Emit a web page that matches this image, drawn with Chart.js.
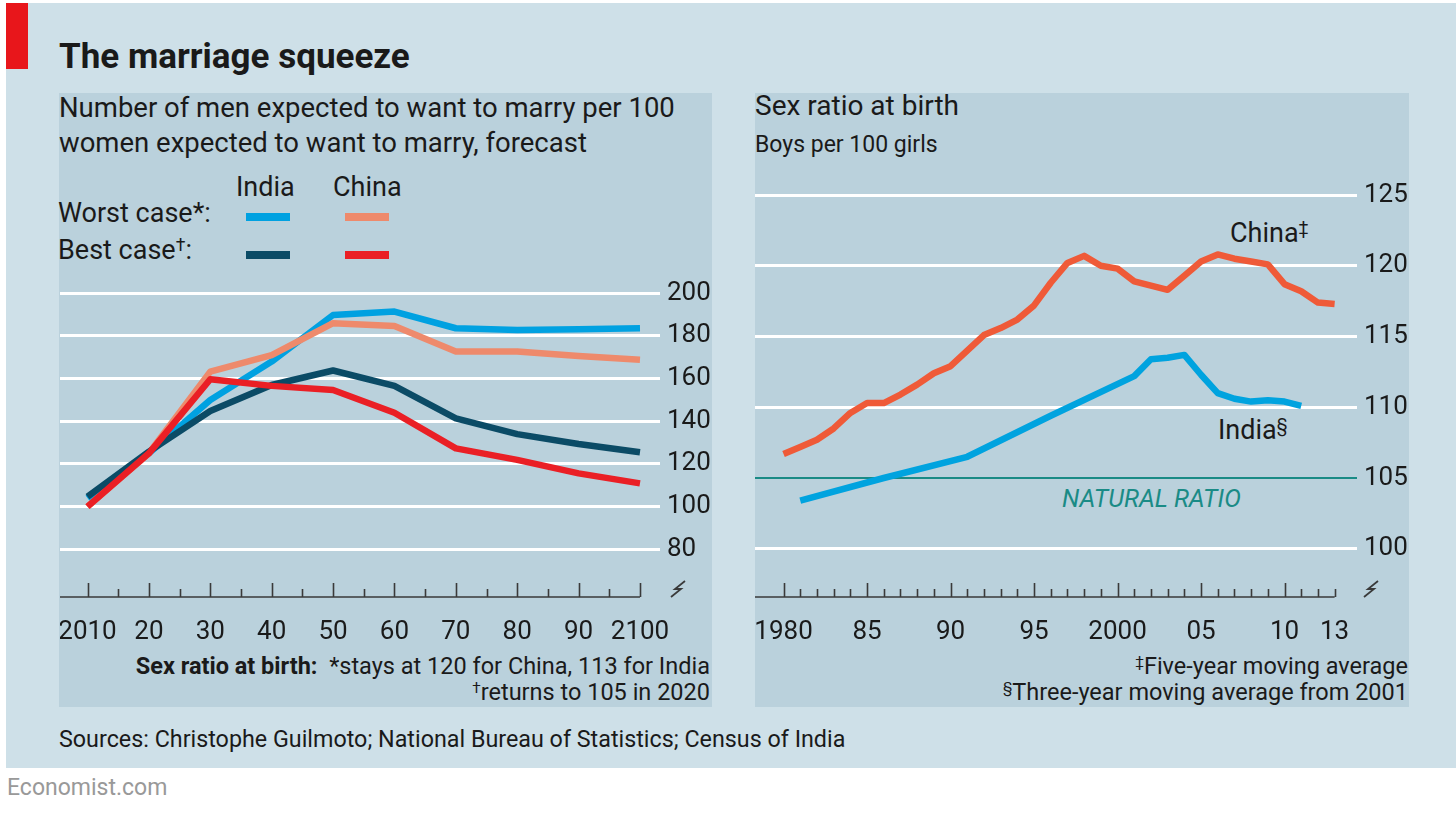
<!DOCTYPE html>
<html>
<head>
<meta charset="utf-8">
<title>The marriage squeeze</title>
<script src="https://cdn.jsdelivr.net/npm/chart.js@4.4.1/dist/chart.umd.min.js"></script>
<style>
  body { margin: 0; background: #fff; width: 1456px; height: 814px; position: relative; overflow: hidden; font-family: Roboto, "Open Sans", sans-serif; color: #1a1a1a; }
  .bg { position: absolute; left: 6px; top: 3px; width: 1450px; height: 765px; background: #cee0e8; }
  .red { position: absolute; left: 6px; top: 3px; width: 22px; height: 66px; background: #e8161b; }
  .panel { position: absolute; background: #bad1dc; }
  .t { position: absolute; white-space: nowrap; line-height: 1; }
  .r { text-align: right; }
  .sup { font-size: 0.65em; vertical-align: 0.45em; }
  .sw { position: absolute; width: 44px; height: 8px; }
  canvas { position: absolute; }
</style>
</head>
<body>
<div class="bg"></div>
<div class="red"></div>
<div class="panel" style="left:59px;top:93px;width:653px;height:614px"></div>
<div class="panel" style="left:755px;top:93px;width:654px;height:614px"></div>

<div class="t" style="left:59px;top:38.5px;font-size:35px;font-weight:bold">The marriage squeeze</div>

<div class="t" style="left:59px;top:93.8px;font-size:27.5px">Number of men expected to want to marry per 100</div>
<div class="t" style="left:59px;top:128.8px;font-size:27.5px">women expected to want to marry, forecast</div>

<div class="t" style="left:236px;top:174.3px;font-size:27px">India</div>
<div class="t" style="left:333px;top:174.3px;font-size:27px">China</div>
<div class="t" style="left:58px;top:200.3px;font-size:27px">Worst case*:</div>
<div class="t" style="left:58px;top:237.3px;font-size:27px">Best case<span class="sup">†</span>:</div>
<div class="sw" id="swIW" style="left:246px;top:213px"></div>
<div class="sw" id="swCW" style="left:345px;top:213px"></div>
<div class="sw" id="swIB" style="left:246px;top:251px"></div>
<div class="sw" id="swCB" style="left:345px;top:251px"></div>

<div class="t" style="left:755px;top:92.4px;font-size:28px">Sex ratio at birth</div>
<div class="t" style="left:755px;top:132.6px;font-size:23px">Boys per 100 girls</div>

<div class="t" style="left:1230px;top:220.3px;font-size:27px">China<span class="sup">‡</span></div>
<div class="t" style="left:1218px;top:417.3px;font-size:27px">India<span class="sup">§</span></div>
<div class="t" id="natural" style="left:1062px;top:486px;font-size:25px;font-style:italic">NATURAL RATIO</div>

<div class="t r" style="right:746px;top:655.2px;font-size:23.5px"><b>Sex ratio at birth:</b>&nbsp; *stays at 120 for China, 113 for India</div>
<div class="t r" style="right:746px;top:681.2px;font-size:23.5px"><span class="sup">†</span>returns to 105 in 2020</div>
<div class="t r" style="right:48px;top:655.2px;font-size:23.5px"><span class="sup">‡</span>Five-year moving average</div>
<div class="t r" style="right:48px;top:681.2px;font-size:23.5px"><span class="sup">§</span>Three-year moving average from 2001</div>

<div class="t" style="left:59px;top:728.4px;font-size:23.3px">Sources: Christophe Guilmoto; National Bureau of Statistics; Census of India</div>
<div class="t" style="left:7px;top:775.6px;font-size:23px;color:#999">Economist.com</div>

<canvas id="left" width="652" height="437" style="left:60px;top:270px;width:652px;height:437px"></canvas>
<canvas id="right" width="654" height="537" style="left:755px;top:170px;width:654px;height:537px"></canvas>

<script>
// forecast chart (left)
const forecastYears = [2010, 2020, 2030, 2040, 2050, 2060, 2070, 2080, 2090, 2100];
const indiaWorst = [104, 125, 150, 168, 189.8, 191.4, 183.6, 182.8, 183.1, 183.6];
const chinaWorst = [100, 125, 163.3, 171, 186, 184.7, 172.7, 172.7, 170.6, 168.8];
const indiaBest = [104.7, 125.8, 144.8, 157, 163.8, 156.6, 141.4, 134, 129.4, 125.5];
const chinaBest = [100, 125, 159.7, 156.6, 154.7, 144, 127.3, 121.9, 115.6, 110.9];
const forecastTickYears = [2010, 2020, 2030, 2040, 2050, 2060, 2070, 2080, 2090, 2100];
const forecastTickLabels = ["2010", "20", "30", "40", "50", "60", "70", "80", "90", "2100"];
const forecastAxisMarks = [2010, 2015, 2020, 2025, 2030, 2035, 2040, 2045, 2050, 2055, 2060, 2065, 2070, 2075, 2080, 2085, 2090, 2095, 2100];
const forecastYTicks = [80, 100, 120, 140, 160, 180, 200];

// sex ratio chart (right)
const chinaYears = [1980, 1981, 1982, 1983, 1984, 1985, 1986, 1987, 1988, 1989,
  1990, 1991, 1992, 1993, 1994, 1995, 1996, 1997, 1998, 1999,
  2000, 2001, 2002, 2003, 2004, 2005, 2006, 2007, 2008, 2009,
  2010, 2011, 2012, 2013];
const chinaRatio = [106.7, 107.2, 107.7, 108.5, 109.6, 110.3, 110.3, 110.9, 111.6, 112.4,
  112.9, 114.0, 115.1, 115.6, 116.2, 117.2, 118.8, 120.2, 120.7, 120.0,
  119.8, 118.9, 118.6, 118.3, 119.3, 120.3, 120.8, 120.5, 120.3, 120.1,
  118.7, 118.2, 117.4, 117.3];
const indiaYears = [1981, 1986, 1991, 1996, 2001, 2002, 2003, 2004, 2005, 2006, 2007, 2008, 2009, 2010, 2011];
const indiaRatio = [103.4, 105.0, 106.5, 109.4, 112.2, 113.4, 113.5, 113.7, 112.3, 111.0, 110.6, 110.4, 110.5, 110.4, 110.1];
const ratioTickYears = [1980, 1985, 1990, 1995, 2000, 2005, 2010, 2013];
const ratioTickLabels = ["1980", "85", "90", "95", "2000", "05", "10", "13"];
const ratioMajorMarks = [1980, 1985, 1990, 1995, 2000, 2005, 2010];
const ratioYTicks = [100, 105, 110, 115, 120, 125];
const naturalRatio = 105;

const colIndiaWorst = "#00a1e1";
const colChinaWorst = "#ee8a6c";
const colIndiaBest = "#0b4b66";
const colChinaBest = "#ea1f25";
const colChina = "#ef5a38";
const colIndia = "#00a3df";
const colTeal = "#1a8b86";
const colAxis = "#3a3a3a";

document.getElementById("swIW").style.background = colIndiaWorst;
document.getElementById("swCW").style.background = colChinaWorst;
document.getElementById("swIB").style.background = colIndiaBest;
document.getElementById("swCB").style.background = colChinaBest;
document.getElementById("natural").style.color = colTeal;

Chart.defaults.font.family = "Roboto, 'Open Sans', sans-serif";
Chart.defaults.color = "#1a1a1a";

function pairs(xs, ys) {
  return xs.map((x, i) => ({ x: x, y: ys[i] }));
}

function line(data, color) {
  return {
    data: data,
    borderColor: color,
    borderWidth: 6.5,
    pointRadius: 0,
    tension: 0,
    borderJoinStyle: "round",
    fill: false
  };
}

// baseline with upward ticks and the axis break mark
const axisPlugin = {
  id: "axisMarks",
  afterDraw(chart, args, opts) {
    const ctx = chart.ctx;
    const x = chart.scales.x;
    const area = chart.chartArea;
    const yb = area.bottom;
    ctx.save();
    ctx.strokeStyle = colAxis;
    ctx.lineWidth = 1.6;
    ctx.beginPath();
    ctx.moveTo(area.left, yb);
    ctx.lineTo(x.getPixelForValue(opts.marks[opts.marks.length - 1]), yb);
    opts.marks.forEach(v => {
      const px = Math.round(x.getPixelForValue(v)) + 0.5;
      const len = opts.major.includes(v) ? 14 : 8;
      ctx.moveTo(px, yb);
      ctx.lineTo(px, yb - len);
    });
    ctx.stroke();

    // break sign
    const bx = area.right + opts.breakOffset;
    const by = yb - 8;
    ctx.lineWidth = 1.8;
    ctx.beginPath();
    ctx.moveTo(bx + 7, by - 8);
    ctx.lineTo(bx - 3, by);
    ctx.lineTo(bx + 3, by);
    ctx.lineTo(bx - 7, by + 8);
    ctx.stroke();
    ctx.restore();
  }
};

function baseOptions(cfg) {
  return {
    responsive: false,
    animation: false,
    layout: { padding: 0, autoPadding: false },
    plugins: {
      legend: { display: false },
      tooltip: { enabled: false },
      axisMarks: cfg.marks
    },
    scales: {
      x: {
        type: "linear",
        min: cfg.xmin,
        max: cfg.xmax,
        grid: { display: false, drawTicks: false },
        border: { display: false },
        afterBuildTicks: s => { s.ticks = cfg.xTicks.map(v => ({ value: v })); },
        afterFit: s => { s.height = 110; s.paddingLeft = 0; s.paddingRight = 0; },
        ticks: {
          font: { size: 26 },
          padding: 20,
          maxRotation: 0,
          autoSkip: false,
          callback: (v) => cfg.xLabels[cfg.xTicks.indexOf(v)]
        }
      },
      y: {
        position: "right",
        min: cfg.ymin,
        max: cfg.ymax,
        border: { display: false },
        grid: {
          drawTicks: false,
          color: c => (cfg.special !== undefined && c.tick.value === cfg.special) ? colTeal : "#ffffff",
          lineWidth: c => (cfg.special !== undefined && c.tick.value === cfg.special) ? 2 : 3
        },
        afterBuildTicks: s => { s.ticks = cfg.yTicks.map(v => ({ value: v })); },
        afterFit: s => { s.width = 52; s.paddingTop = 0; s.paddingBottom = 0; },
        ticks: { font: { size: 26 }, padding: 7 }
      }
    }
  };
}

new Chart(document.getElementById("left"), {
  type: "line",
  data: {
    datasets: [
      line(pairs(forecastYears, chinaBest), colChinaBest),
      line(pairs(forecastYears, indiaBest), colIndiaBest),
      line(pairs(forecastYears, chinaWorst), colChinaWorst),
      line(pairs(forecastYears, indiaWorst), colIndiaWorst)
    ]
  },
  options: baseOptions({
    xmin: 2005.52, xmax: 2103.26,
    ymin: 57.67, ymax: 210.9,
    xTicks: forecastTickYears, xLabels: forecastTickLabels,
    yTicks: forecastYTicks,
    marks: { marks: forecastAxisMarks, major: forecastTickYears, breakOffset: 18 }
  }),
  plugins: [axisPlugin]
});

new Chart(document.getElementById("right"), {
  type: "line",
  data: {
    datasets: [
      line(pairs(chinaYears, chinaRatio), colChina),
      line(pairs(indiaYears, indiaRatio), colIndia)
    ]
  },
  options: baseOptions({
    xmin: 1978.29, xmax: 2014.34,
    ymin: 96.59, ymax: 126.77,
    xTicks: ratioTickYears, xLabels: ratioTickLabels,
    yTicks: ratioYTicks,
    special: naturalRatio,
    marks: { marks: chinaYears, major: ratioMajorMarks, breakOffset: 14 }
  }),
  plugins: [axisPlugin]
});
</script>
</body>
</html>
